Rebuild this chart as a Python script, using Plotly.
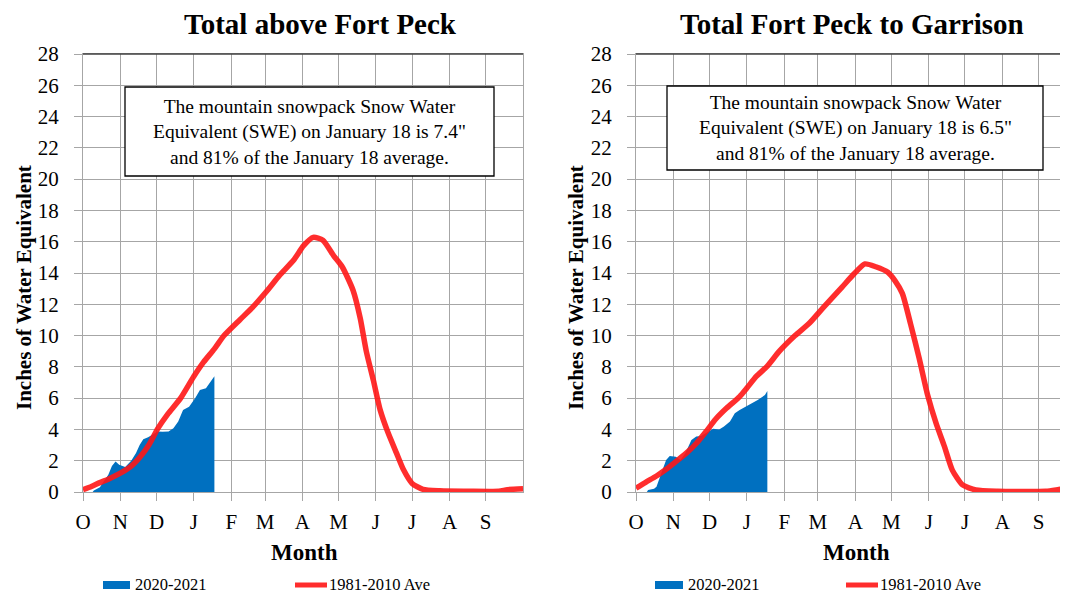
import plotly.graph_objects as go

# ---------------- data (day of water year, starting Oct 1) ----------------
month_days = [0, 31, 61, 92, 123, 151, 182, 212, 243, 273, 304, 334]
month_labels = ["O", "N", "D", "J", "F", "M", "A", "M", "J", "J", "A", "S"]
y_ticks = list(range(0, 29, 2))

left_avg_days = [0, 7, 14, 21, 31, 40, 48, 55, 62, 70, 81, 92, 100, 109, 117, 130, 140, 152,
                 163, 175, 183, 191, 199, 208, 215, 224, 230, 235, 241, 246.5, 253, 260,
                 266, 273, 282, 296, 320, 345, 352, 365]
left_avg_vals = [0.15, 0.35, 0.6, 0.82, 1.2, 1.65, 2.3, 3.05, 4.05, 4.95, 6.0, 7.4, 8.3, 9.15,
                 10.0, 11.0, 11.75, 12.8, 13.85, 14.85, 15.75, 16.28, 16.1, 15.1, 14.4, 12.9,
                 11.1, 9.0, 7.1, 5.25, 3.8, 2.5, 1.4, 0.55, 0.17, 0.08, 0.05, 0.05, 0.15, 0.2]

left_cur_days = [8, 9, 14, 17, 21, 24, 27, 30, 35, 40, 44, 47, 50, 54, 58, 62, 66, 71, 75,
                 79, 83, 88, 93, 97, 102, 106, 109]
left_cur_vals = [0, 0.1, 0.3, 0.66, 1.1, 1.66, 1.95, 1.75, 1.6, 2.0, 2.5, 3.0, 3.37, 3.5,
                 3.7, 3.86, 3.85, 3.86, 4.07, 4.5, 5.24, 5.45, 6.0, 6.52, 6.63, 7.05, 7.4]

right_avg_days = [0, 8, 17, 25, 33, 42, 50, 58, 66, 75, 86, 92, 100, 109, 119, 132, 144, 155,
                  171, 181, 190, 199, 209, 215, 221, 228, 235, 242, 249, 256, 262.5, 271,
                  282, 300, 340, 350, 358.5]
right_avg_vals = [0.24, 0.62, 1.02, 1.45, 1.94, 2.5, 3.1, 3.85, 4.65, 5.35, 6.1, 6.65, 7.4,
                  8.05, 9.0, 10.0, 10.8, 11.75, 13.1, 13.95, 14.58, 14.4, 14.05, 13.5, 12.7,
                  10.7, 8.55, 6.2, 4.4, 2.9, 1.4, 0.45, 0.13, 0.05, 0.05, 0.15, 0.25]

right_cur_days = [9, 10, 15, 17, 21, 25, 28, 33, 37, 41, 46, 50, 54, 58, 64, 69, 73, 78, 82,
                  86, 91, 96, 101, 107, 109]
right_cur_vals = [0, 0.12, 0.2, 0.34, 1.2, 2.05, 2.3, 2.26, 2.05, 2.5, 3.32, 3.54, 3.58, 3.75,
                  4.05, 4.0, 4.18, 4.5, 5.03, 5.24, 5.45, 5.63, 5.88, 6.2, 6.45]

titles = ["Total above Fort Peck", "Total Fort Peck to Garrison"]
box_texts = [
    "The mountain snowpack Snow Water<br>Equivalent (SWE) on January 18 is 7.4\"<br>and 81% of the January 18 average.",
    "The mountain snowpack Snow Water<br>Equivalent (SWE) on January 18 is 6.5\"<br>and 81% of the January 18 average.",
]
series_names = ["2020-2021", "1981-2010 Ave"]

# ---------------- styling / layout helpers ----------------
PAGE_W, PAGE_H = 1068, 593
OFF = 8  # default body margin of the html page
W, H = PAGE_W - OFF, PAGE_H - OFF
FONT = "Liberation Serif, Times New Roman, serif"
BLUE = "#0070C0"
RED = "rgba(255,22,22,0.9)"
GRID = "#A6A6A6"


def px(x):
    return (x - OFF) / W


def py(y):
    return 1 - (y - OFF) / H


fig = go.Figure()

fig.add_trace(go.Scatter(x=left_cur_days, y=left_cur_vals, mode="lines", fill="tozeroy",
                         fillcolor=BLUE, line=dict(width=0, color=BLUE),
                         name=series_names[0], showlegend=False, xaxis="x", yaxis="y"))
fig.add_trace(go.Scatter(x=left_avg_days, y=left_avg_vals, mode="lines",
                         line=dict(width=5.5, color=RED, shape="spline", smoothing=0.6),
                         name=series_names[1], showlegend=False, xaxis="x", yaxis="y"))
fig.add_trace(go.Scatter(x=right_cur_days, y=right_cur_vals, mode="lines", fill="tozeroy",
                         fillcolor=BLUE, line=dict(width=0, color=BLUE),
                         name=series_names[0], showlegend=False, xaxis="x2", yaxis="y2"))
fig.add_trace(go.Scatter(x=right_avg_days, y=right_avg_vals, mode="lines",
                         line=dict(width=5.5, color=RED, shape="spline", smoothing=0.6),
                         name=series_names[1], showlegend=False, xaxis="x2", yaxis="y2"))

ydom = [py(492), py(54)]
xcommon = dict(tickvals=month_days, ticktext=month_labels, showgrid=True, gridcolor=GRID,
               gridwidth=1.3, ticks="outside", ticklen=8, tickcolor=GRID, tickwidth=1.3,
               showline=True, linecolor=GRID, linewidth=1.3, zeroline=False, automargin=False,
               tickfont=dict(family=FONT, size=21, color="black"), ticklabelstandoff=3,
               fixedrange=True)
ycommon = dict(range=[0, 28], tickvals=y_ticks, showgrid=True, gridcolor=GRID, gridwidth=1.3,
               ticks="outside", ticklen=8, tickcolor=GRID, tickwidth=1.3, showline=True,
               linecolor=GRID, linewidth=1.3, zeroline=False, automargin=False,
               tickfont=dict(family=FONT, size=21, color="black"), ticklabelstandoff=11,
               fixedrange=True)

fig.update_layout(
    template="none",
    width=W, height=H, margin=dict(l=0, r=0, t=0, b=0, pad=0),
    paper_bgcolor="white", plot_bgcolor="white", showlegend=False,
    xaxis=dict(domain=[px(83), px(523)], range=[0, 365], anchor="y", mirror=True, **xcommon),
    yaxis=dict(domain=ydom, anchor="x", mirror=True, **ycommon),
    xaxis2=dict(domain=[px(636), 1.0], range=[0, 358.5], anchor="y2", mirror=True, **xcommon),
    yaxis2=dict(domain=ydom, anchor="x2", mirror=False, **ycommon),
)

shapes = []
annotations = []

panels = [
    dict(title_x=320, ytitle_x=24, month_x=304.5, box=(125, 87, 494, 176),
         leg_rect=(103, 130), leg_text1=133, leg_line=(295, 327), leg_text2=327),
    dict(title_x=852, ytitle_x=576, month_x=856, box=(667, 86, 1043, 170),
         leg_rect=(655, 683), leg_text1=686, leg_line=(846, 878), leg_text2=878),
]

for i, p in enumerate(panels):
    x0 = px(83) if i == 0 else px(636)
    x1 = px(523) if i == 0 else 1.0
    shapes.append(dict(type="line", xref="paper", yref="paper", x0=x0, x1=x1, y0=py(54), y1=py(54),
                       line=dict(color="#404040", width=1.3)))
    bx0, by0, bx1, by1 = p["box"]
    shapes.append(dict(type="rect", xref="paper", yref="paper", x0=px(bx0), x1=px(bx1),
                       y0=py(by1), y1=py(by0), fillcolor="white",
                       line=dict(color="black", width=1.3), layer="above"))
    annotations.append(dict(xref="paper", yref="paper", x=px((bx0 + bx1) / 2), y=py((by0 + by1) / 2),
                            text=box_texts[i], showarrow=False, xanchor="center", yanchor="middle",
                            font=dict(family=FONT, size=19.5, color="black"), align="center"))
    annotations.append(dict(xref="paper", yref="paper", x=px(p["title_x"]), y=py(23.5),
                            text="<b>" + titles[i] + "</b>", showarrow=False,
                            xanchor="center", yanchor="middle",
                            font=dict(family=FONT, size=29, color="black")))
    annotations.append(dict(xref="paper", yref="paper", x=px(p["ytitle_x"]), y=py(288),
                            text="<b>Inches of Water Equivalent</b>", showarrow=False, textangle=-90,
                            xanchor="center", yanchor="middle",
                            font=dict(family=FONT, size=21, color="black")))
    annotations.append(dict(xref="paper", yref="paper", x=px(p["month_x"]), y=py(552),
                            text="<b>Month</b>", showarrow=False, xanchor="center", yanchor="middle",
                            font=dict(family=FONT, size=23, color="black")))
    r0, r1 = p["leg_rect"]
    shapes.append(dict(type="rect", xref="paper", yref="paper", x0=px(r0), x1=px(r1),
                       y0=py(589), y1=py(581), fillcolor=BLUE, line=dict(width=0)))
    annotations.append(dict(xref="paper", yref="paper", x=px(p["leg_text1"]), y=py(584),
                            text=series_names[0], showarrow=False, xanchor="left", yanchor="middle",
                            font=dict(family=FONT, size=16.5, color="black")))
    l0, l1 = p["leg_line"]
    shapes.append(dict(type="line", xref="paper", yref="paper", x0=px(l0), x1=px(l1),
                       y0=py(585), y1=py(585), line=dict(color=RED, width=5)))
    annotations.append(dict(xref="paper", yref="paper", x=px(p["leg_text2"]), y=py(584),
                            text=series_names[1], showarrow=False, xanchor="left", yanchor="middle",
                            font=dict(family=FONT, size=16.5, color="black")))

fig.update_layout(shapes=shapes, annotations=annotations)
fig.write_html("out.html")
